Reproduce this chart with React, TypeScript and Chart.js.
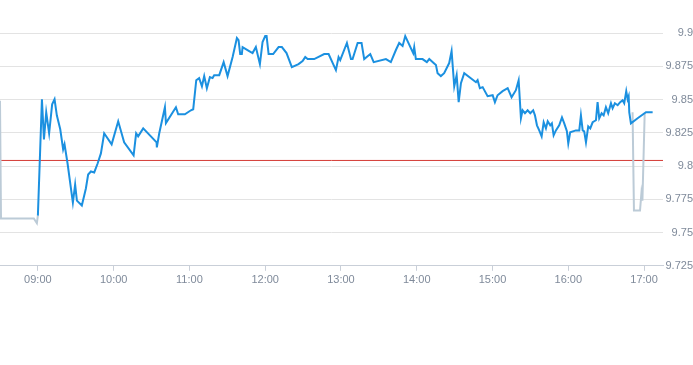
import React, { useEffect, useRef } from "react";
import { Chart, registerables } from "chart.js";

Chart.register(...registerables);

// Times are minutes since midnight
const blueTimes = [
  540, 543.2, 544.8, 546.6, 548.9, 551.3, 553.2, 555.0, 557.7, 560.0, 561.1, 563.5, 567.7, 569.5, 570.9,
  574.8, 578.0, 579.8, 582.0, 584.6, 587.3, 589.9, 592.5, 598.4, 603.6, 608.3, 615.8, 617.8, 619.4, 623.4,
  634.0, 634.2, 636.1, 640.6, 641.4, 649.3, 651.1, 656.4, 661.2, 663.0, 665.4, 667.7, 669.9, 671.7, 673.8,
  676.2, 678.3, 679.6, 683.6, 687.1, 690.2, 694.2, 697.6, 698.9, 700.2, 701.5, 702.1, 707.3, 710.0, 712.6,
  715.8, 717.9, 720.0, 721.1, 722.7, 726.3, 730.6, 733.2, 736.9, 741.1, 746.4, 749.6, 751.7, 753.6, 758.8,
  766.7, 770.2, 776.0, 778.1, 779.4, 784.7, 787.9, 789.2, 793.2, 796.3, 798.4, 803.2, 805.9, 815.6, 819.5,
  823.5, 826.1, 828.8, 830.9, 837.2, 838.0, 839.3, 844.6, 848.0, 849.9, 853.4, 855.2, 856.5, 859.1, 861.7,
  865.7, 867.6, 869.7, 871.6, 873.2, 875.0, 877.6, 886.9, 888.2, 890.0, 892.2, 896.1, 900.1, 901.9, 904.0,
  908.0, 912.0, 915.1, 918.5, 920.7, 922.5, 923.8, 925.7, 927.8, 929.9, 932.2, 933.6, 935.2, 937.0, 938.9,
  940.5, 942.3, 943.7, 945.7, 947.0, 948.4, 950.2, 952.8, 955.0, 956.8, 958.9, 960.0, 961.5, 966.0, 968.7,
  970.0, 971.4, 972.6, 974.0, 975.8, 977.4, 979.3, 981.9, 983.2, 984.5, 986.4, 988.0, 989.8, 991.6, 993.8,
  995.1, 996.9, 999.1, 1001.1, 1003.0, 1004.3, 1005.9, 1007.0, 1007.8, 1008.3, 1009.6, 1014.9, 1021.5, 1026.8,
];
const blueValues = [
  9.7627, 9.8502, 9.82, 9.8404, 9.8246, 9.8464, 9.8502, 9.8381, 9.8276, 9.8125, 9.8163, 9.8019, 9.7725, 9.7861, 9.774,
  9.7703, 9.7831, 9.7936, 9.7959, 9.7952, 9.8019, 9.8095, 9.8246, 9.8163, 9.8336, 9.8178, 9.808, 9.8246, 9.8223, 9.8283,
  9.8178, 9.814, 9.8246, 9.8442, 9.8323, 9.8442, 9.8389, 9.8389, 9.8419, 9.8427, 9.8645, 9.8661, 9.86, 9.8676, 9.8585,
  9.8668, 9.8661, 9.8683, 9.8683, 9.8781, 9.8676, 9.8819, 9.8962, 9.8947, 9.8842, 9.8842, 9.8894, 9.8864, 9.8849, 9.8894,
  9.8766, 9.8932, 9.8977, 9.8977, 9.8842, 9.8842, 9.8894, 9.8894, 9.8849, 9.8744, 9.8766, 9.8789, 9.8819, 9.8804, 9.8804,
  9.8842, 9.8842, 9.8721, 9.8819, 9.8796, 9.8925, 9.8804, 9.8804, 9.8925, 9.8925, 9.8804, 9.8842, 9.8781, 9.8804, 9.8781,
  9.8872, 9.8925, 9.8902, 9.8977, 9.8849, 9.8894, 9.8804, 9.8804, 9.8781, 9.8804, 9.8774, 9.8759, 9.8698, 9.8676, 9.8698,
  9.8774, 9.8864, 9.86, 9.8683, 9.848, 9.8623, 9.8698, 9.863, 9.8645, 9.8585, 9.8593, 9.8525, 9.8532, 9.848, 9.8532,
  9.8563, 9.8585, 9.8517, 9.857, 9.8645, 9.836, 9.8419, 9.8397, 9.8419, 9.8397, 9.8419, 9.8381, 9.8306, 9.8268, 9.8223,
  9.8329, 9.8283, 9.8336, 9.8306, 9.8321, 9.8231, 9.8268, 9.8306, 9.8366, 9.8321, 9.8261, 9.817, 9.8253, 9.8268, 9.8268,
  9.8381, 9.8268, 9.8261, 9.8178, 9.8298, 9.8283, 9.8329, 9.8344, 9.848, 9.8359, 9.8397, 9.8381, 9.8442, 9.8397, 9.8472,
  9.8434, 9.8472, 9.8457, 9.848, 9.8495, 9.8472, 9.8563, 9.8502, 9.8525, 9.8404, 9.8321, 9.8359, 9.8404, 9.8404,
];

// Grey series (null marks a gap)
const greyTimes = [510, 510.8, 536.8, 539.2, 540, 700, 1010.9, 1012.0, 1016.8, 1017.9, 1018.7, 1020.5];
const greyValues = [9.849, 9.7605, 9.7605, 9.757, 9.7627, null, 9.8404, 9.7665, 9.7665, 9.7795, 9.774, 9.8397];

const refValue = 9.8042;

const xMin = 510;
const xMax = 1035;
const hourTicks = [540, 600, 660, 720, 780, 840, 900, 960, 1020];
const hourLabels = ["09:00", "10:00", "11:00", "12:00", "13:00", "14:00", "15:00", "16:00", "17:00"];
const yMin = 9.725;
const yMax = 9.9;
const yTicks = [9.725, 9.75, 9.775, 9.8, 9.825, 9.85, 9.875, 9.9];
const yLabels = ["9.725", "9.75", "9.775", "9.8", "9.825", "9.85", "9.875", "9.9"];

export default function App() {
  const ref = useRef<HTMLCanvasElement | null>(null);
  useEffect(() => {
    document.body.style.margin = "0";
    const canvas = ref.current;
    if (!canvas) return;
    const font = { family: "'Helvetica Neue', Helvetica, Arial, sans-serif", size: 11 };
    const chart = new Chart(canvas, {
      type: "line",
      data: {
        datasets: [
          {
            data: blueTimes.map((t, i) => ({ x: t, y: blueValues[i] })),
            borderColor: "#1b90e0",
            borderWidth: 2,
            pointRadius: 0,
            tension: 0,
            order: 1,
          },
          {
            data: greyTimes.map((t, i) => ({ x: t, y: greyValues[i] })),
            borderColor: "#bccbd7",
            borderWidth: 2,
            pointRadius: 0,
            tension: 0,
            spanGaps: false,
            order: 2,
          },
          {
            data: [
              { x: xMin, y: refValue },
              { x: xMax, y: refValue },
            ],
            borderColor: "#d43a33",
            borderWidth: 1,
            pointRadius: 0,
            order: 3,
          },
        ],
      },
      options: {
        animation: false,
        responsive: false,
        maintainAspectRatio: false,
        layout: { padding: { top: 33, bottom: 75, left: 0, right: 0 } },
        plugins: { legend: { display: false }, tooltip: { enabled: false } },
        scales: {
          x: {
            type: "linear",
            min: xMin,
            max: xMax,
            afterBuildTicks: (s: any) => {
              s.ticks = hourTicks.map((v) => ({ value: v }));
            },
            ticks: {
              color: "#7f8a9a",
              font,
              padding: 3,
              maxRotation: 0,
              autoSkip: false,
              callback: (v: any) => {
                const i = hourTicks.indexOf(Number(v));
                return i >= 0 ? hourLabels[i] : "";
              },
            },
            grid: { drawOnChartArea: false, drawTicks: true, tickLength: 5, color: "#c9cfd8" },
            border: { display: true, color: "#c9cfd8" },
          },
          y: {
            type: "linear",
            position: "right",
            min: yMin,
            max: yMax,
            afterBuildTicks: (s: any) => {
              s.ticks = yTicks.map((v) => ({ value: v }));
            },
            afterFit: (s: any) => {
              s.width = 30;
            },
            ticks: {
              color: "#7f8a9a",
              font,
              padding: 3,
              crossAlign: "far",
              callback: (v: any) => {
                const i = yTicks.findIndex((t) => Math.abs(t - Number(v)) < 1e-6);
                return i >= 0 ? yLabels[i] : "";
              },
            },
            grid: { color: "#e3e3e3", drawTicks: false },
            border: { display: false },
          },
        },
      },
    });
    return () => chart.destroy();
  }, []);
  return (
    <div style={{ width: 693, height: 365 }}>
      <canvas ref={ref} width={693} height={365} style={{ display: "block", width: 693, height: 365 }} />
    </div>
  );
}
